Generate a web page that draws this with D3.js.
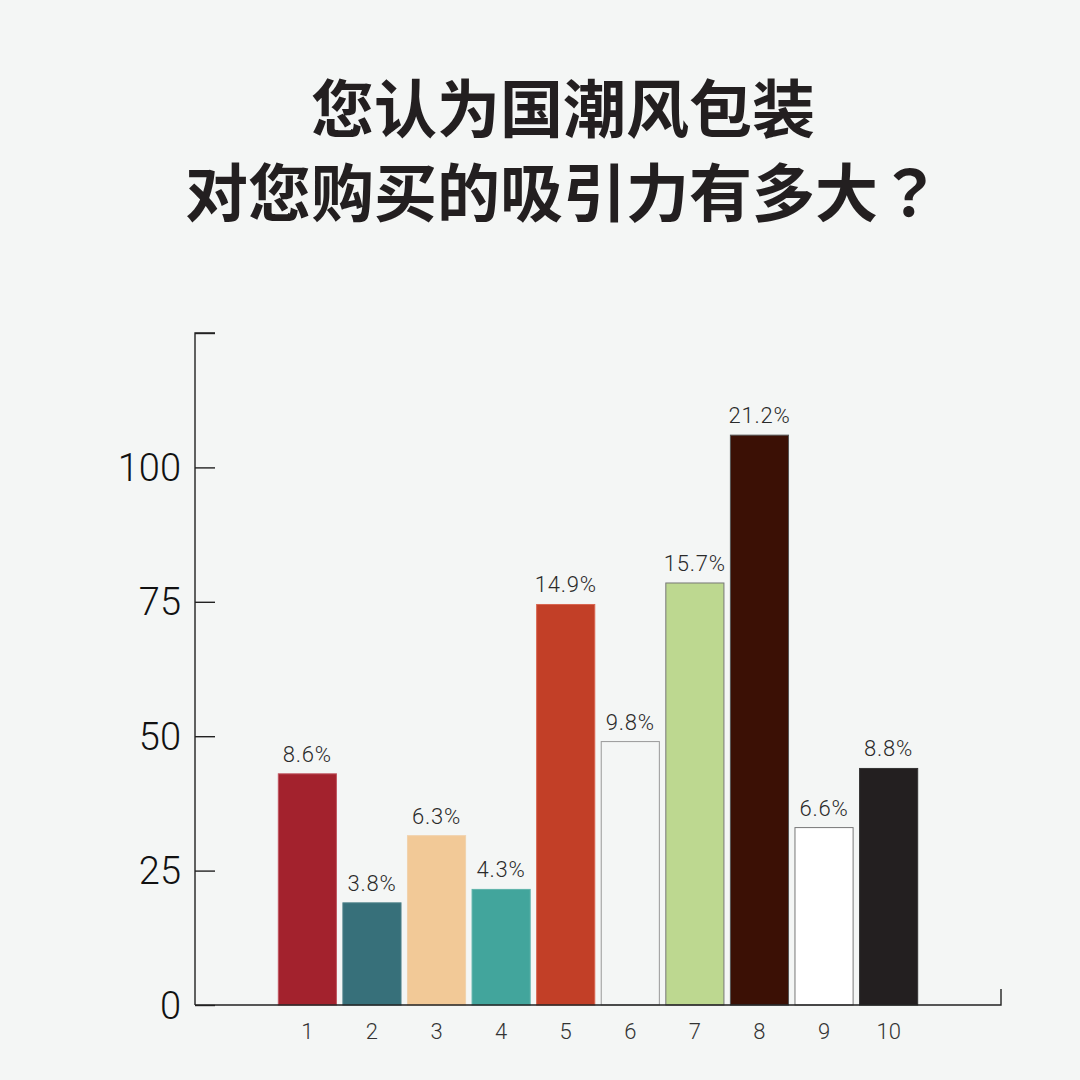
<!DOCTYPE html>
<html>
<head>
<meta charset="utf-8">
<script src="https://cdn.jsdelivr.net/npm/d3@7"></script>
<style>
  html, body { margin: 0; padding: 0; background: #f4f6f5; }
  svg { display: block; }
</style>
</head>
<body>
<svg id="chart"></svg>
<script>
// 数据
const titleLines = ['您认为国潮风包装', '对您购买的吸引力有多大？'];
const categories = ['1', '2', '3', '4', '5', '6', '7', '8', '9', '10'];
const values = [43, 19, 31.5, 21.5, 74.5, 49, 78.5, 106, 33, 44];
const percentLabels = ['8.6%', '3.8%', '6.3%', '4.3%', '14.9%', '9.8%', '15.7%', '21.2%', '6.6%', '8.8%'];
const yTicks = [0, 25, 50, 75, 100];

// 颜色
const fills = ['#a3222d', '#37707a', '#f2c997', '#42a59c', '#c23f27',
               '#f4f6f5', '#bdd890', '#3b1005', '#ffffff', '#231f20'];
const strokes = ['#c05560', '#4d8089', '#f0d2ad', '#5fb3ab', '#d8654f',
                 '#999999', '#777777', '#555555', '#777777', '#333333'];

const W = 1080, H = 1080;
const plotLeft = 195, plotRight = 1001, plotTop = 333, plotBottom = 1005;
const numFont = 'Roboto, "Noto Sans", sans-serif';

const svg = d3.select('#chart')
  .attr('width', W)
  .attr('height', H);

svg.append('rect')
  .attr('width', W).attr('height', H)
  .attr('fill', '#f4f6f5');

// 标题（全角问号用居中字形）
const title = svg.append('g')
  .selectAll('text')
  .data(titleLines)
  .enter().append('text')
  .attr('x', 563)
  .attr('y', (d, i) => 104 + i * 84)
  .attr('text-anchor', 'middle')
  .attr('dominant-baseline', 'central')
  .style('font-family', '"Noto Sans CJK SC", sans-serif')
  .style('font-weight', 'bold')
  .style('font-size', '63px')
  .attr('fill', '#231f20');

title.each(function (d) {
  const t = d3.select(this);
  const parts = d.split(/(？)/).filter(s => s.length);
  parts.forEach(p => {
    const span = t.append('tspan').text(p);
    if (p === '？') span.style('font-family', '"Noto Sans CJK JP", sans-serif');
  });
});

// 比例尺
const x = d3.scaleBand()
  .domain(categories)
  .range([plotLeft, plotRight])
  .paddingInner(0.1)
  .paddingOuter(1.29);

const y = d3.scaleLinear()
  .domain([0, 125])
  .range([plotBottom, plotTop]);

// 柱子
svg.append('g')
  .selectAll('rect')
  .data(values)
  .enter().append('rect')
  .attr('x', (d, i) => x(categories[i]))
  .attr('width', x.bandwidth())
  .attr('y', d => y(d))
  .attr('height', d => y(0) - y(d))
  .attr('fill', (d, i) => fills[i])
  .attr('stroke', (d, i) => strokes[i])
  .attr('stroke-width', 1);

// 数值标签
svg.append('g')
  .selectAll('text')
  .data(values)
  .enter().append('text')
  .attr('x', (d, i) => x(categories[i]) + x.bandwidth() / 2)
  .attr('y', d => y(d) - 12)
  .attr('text-anchor', 'middle')
  .style('font-family', numFont)
  .style('font-weight', 300)
  .style('font-size', '22px')
  .style('letter-spacing', '0.8px')
  .attr('fill', '#2a2a2a')
  .text((d, i) => percentLabels[i]);

// Y 轴
const yAxis = svg.append('g')
  .attr('transform', `translate(${plotLeft},0)`)
  .call(d3.axisRight(y).tickValues([...yTicks, 125]).tickSize(20).tickFormat(''));
yAxis.select('.domain')
  .attr('d', `M20,${plotTop}H0V${plotBottom}`)
  .attr('stroke', '#222')
  .attr('stroke-width', 1.4);
yAxis.selectAll('.tick line').attr('stroke', '#222').attr('stroke-width', 1.4);

svg.append('g')
  .selectAll('text')
  .data(yTicks)
  .enter().append('text')
  .attr('x', 181)
  .attr('y', d => y(d))
  .attr('dy', '0.36em')
  .attr('text-anchor', 'end')
  .style('font-family', numFont)
  .style('font-weight', 300)
  .style('font-size', '38px')
  .attr('fill', '#111')
  .text(d => d);

// X 轴
const xAxis = svg.append('g')
  .attr('transform', `translate(0,${plotBottom})`)
  .call(d3.axisBottom(x).tickSize(0).tickPadding(18));
xAxis.select('.domain')
  .attr('d', `M${plotLeft},0H${plotRight}V-16`)
  .attr('stroke', '#222')
  .attr('stroke-width', 1.4)
  .attr('fill', 'none');
xAxis.selectAll('.tick text')
  .style('font-family', numFont)
  .style('font-weight', 300)
  .style('font-size', '22px')
  .attr('fill', '#333');
</script>
</body>
</html>
